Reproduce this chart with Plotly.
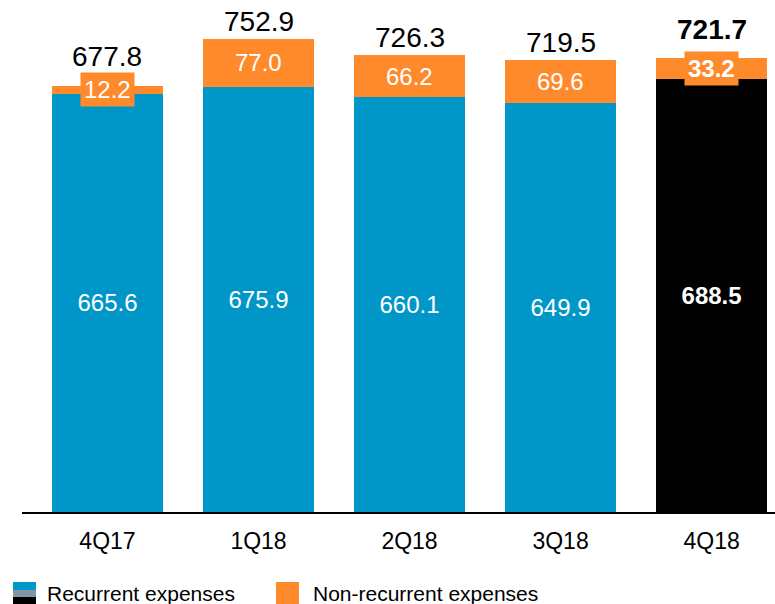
import plotly.graph_objects as go

categories = ["4Q17", "1Q18", "2Q18", "3Q18", "4Q18"]
recurrent = [665.6, 675.9, 660.1, 649.9, 688.5]
non_recurrent = [12.2, 77.0, 66.2, 69.6, 33.2]
totals = [677.8, 752.9, 726.3, 719.5, 721.7]

BLUE = "#0097C8"
ORANGE = "#FF8A2B"
BLACK = "#000000"
GRAY = "#7F97A6"
FONT = "Arial, Liberation Sans, sans-serif"

W, H = 775, 604
ML, MR, MT = 22, 0, 9
BASE = 512
MB = H - BASE
PW, PH = W - ML - MR, H - MT - MB
YMAX = 800
UNIT_PX = PH / YMAX
BOX_HALF = 16  # half height (px) of the orange label box

def px(x):  # window pixel -> paper
    return (x - ML) / PW

def py(y):
    return (BASE - y) / PH

last = len(categories) - 1
rec_colors = [BLACK if i == last else BLUE for i in range(len(categories))]
bold = lambda s, i: f"<b>{s}</b>" if i == last else s

fig = go.Figure()
fig.add_trace(go.Bar(
    x=categories, y=recurrent, marker=dict(color=rec_colors, line=dict(width=0)),
    width=0.735,
    text=[bold(f"{v:.1f}", i) for i, v in enumerate(recurrent)],
    textposition="inside", insidetextanchor="middle",
    textfont=dict(family=FONT, size=24, color="white"),
    hoverinfo="skip", showlegend=False,
))
fig.add_trace(go.Bar(
    x=categories, y=non_recurrent, marker=dict(color=ORANGE, line=dict(width=0)),
    width=0.735, hoverinfo="skip", showlegend=False,
))

annotations = []
for i, c in enumerate(categories):
    mid = recurrent[i] + non_recurrent[i] / 2
    annotations.append(dict(
        x=c, y=mid, xref="x", yref="y",
        text=bold(f"{non_recurrent[i]:.1f}", i), showarrow=False,
        font=dict(family=FONT, size=24, color="white"),
        bgcolor=ORANGE, borderpad=3, xanchor="center", yanchor="middle",
    ))
    top = max(totals[i], mid + BOX_HALF / UNIT_PX)
    annotations.append(dict(
        x=c, y=top, xref="x", yref="y",
        text=bold(f"{totals[i]:.1f}", i), showarrow=False,
        font=dict(family=FONT, size=28, color="black"),
        xanchor="center", yanchor="bottom", yshift=0 if i != last else 6,
    ))

# custom legend
shapes = [
    dict(type="rect", xref="paper", yref="paper", x0=px(13), x1=px(36), y0=py(590), y1=py(582),
         fillcolor=BLUE, line=dict(width=0)),
    dict(type="rect", xref="paper", yref="paper", x0=px(13), x1=px(36), y0=py(597), y1=py(590),
         fillcolor=GRAY, line=dict(width=0)),
    dict(type="rect", xref="paper", yref="paper", x0=px(13), x1=px(36), y0=py(604), y1=py(597),
         fillcolor=BLACK, line=dict(width=0)),
    dict(type="rect", xref="paper", yref="paper", x0=px(276), x1=px(299), y0=py(604), y1=py(582),
         fillcolor=ORANGE, line=dict(width=0)),
]
annotations.append(dict(x=px(45), y=py(593), xref="paper", yref="paper", text="Recurrent expenses",
                        showarrow=False, xanchor="left", yanchor="middle",
                        font=dict(family=FONT, size=21, color="black")))
annotations.append(dict(x=px(311), y=py(593), xref="paper", yref="paper", text="Non-recurrent expenses",
                        showarrow=False, xanchor="left", yanchor="middle",
                        font=dict(family=FONT, size=21, color="black")))

fig.update_layout(
    width=W, height=H, barmode="stack",
    margin=dict(l=ML, r=MR, t=MT, b=MB, pad=0),
    plot_bgcolor="white", paper_bgcolor="white",
    annotations=annotations, shapes=shapes,
    font=dict(family=FONT),
    xaxis=dict(range=[-0.566, 4.42], showline=True, linecolor="black", linewidth=1.5,
               ticks="", ticklabelstandoff=8,
               tickfont=dict(family=FONT, size=23, color="black"),
               showgrid=False, fixedrange=True),
    yaxis=dict(range=[0, YMAX], visible=False, showgrid=False, fixedrange=True),
    showlegend=False,
)

fig.write_html("out.html", config={"displayModeBar": False},
               post_script="document.body.style.margin='0px';document.body.style.overflow='hidden';")
